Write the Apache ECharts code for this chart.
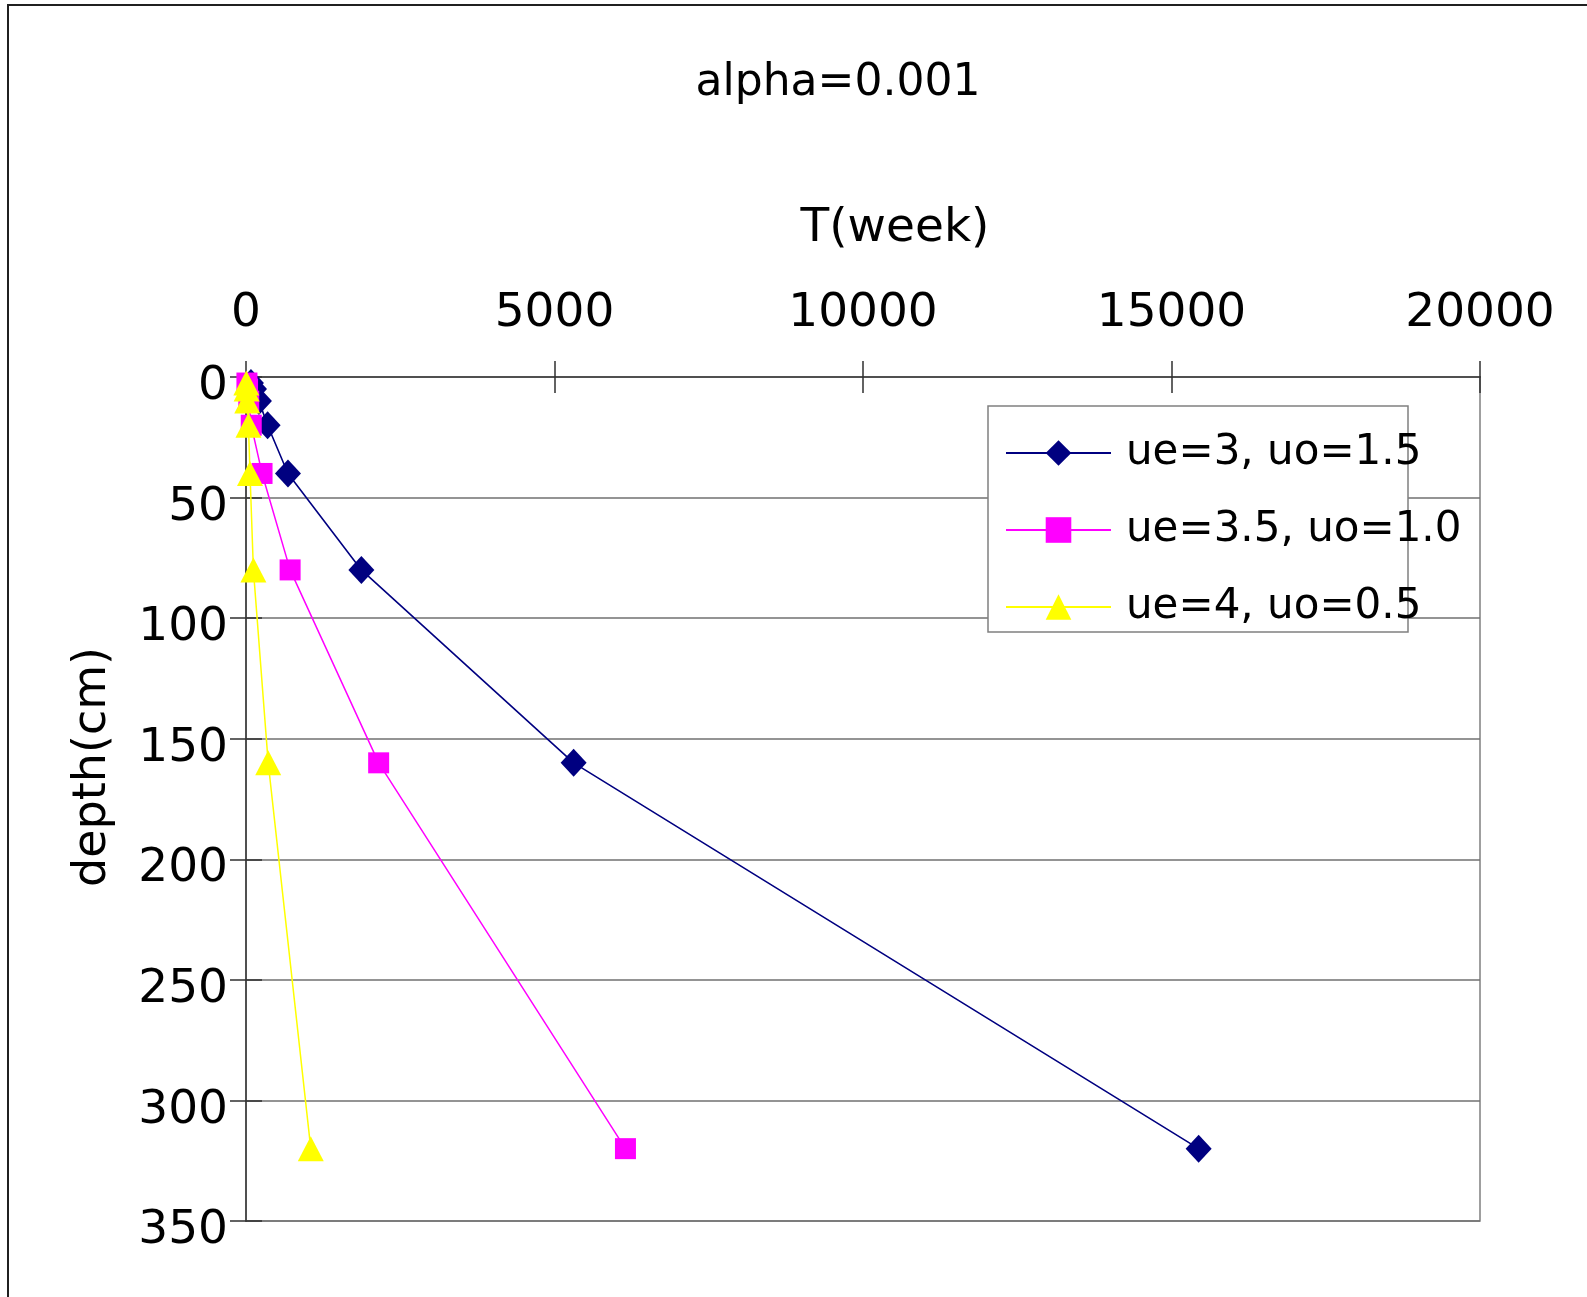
<!DOCTYPE html>
<html>
<head>
<meta charset="utf-8">
<script src="https://cdn.jsdelivr.net/npm/echarts@6/dist/echarts.min.js"></script>
<style>
html,body{margin:0;padding:0;background:#fff;}
#chart{width:1587px;height:1297px;}
</style>
</head>
<body>
<div id="chart"></div>
<script>
// ---- data ----
var titleText = 'alpha=0.001';
var xName = 'T(week)';
var yName = 'depth(cm)';
var depths = [2.5, 5, 10, 20, 40, 80, 160, 320];
var seriesNames = ['ue=3, uo=1.5', 'ue=3.5, uo=1.0', 'ue=4, uo=0.5'];
var tNavy = [80, 130, 210, 350, 680, 1870, 5310, 15440];
var tMagenta = [15, 25, 45, 85, 260, 715, 2150, 6150];
var tYellow = [5, 10, 20, 40, 65, 120, 360, 1050];
var xTicks = [0, 5000, 10000, 15000, 20000];
var yTicks = [0, 50, 100, 150, 200, 250, 300, 350];

function pairs(t) {
  var out = [];
  for (var i = 0; i < depths.length; i++) out.push([t[i], depths[i]]);
  return out;
}

var FONT = 'DejaVu Sans';
var chart = echarts.init(document.getElementById('chart'), null, {renderer: 'canvas'});

var gridL = 246, gridT = 377, gridR = 1480, gridB = 1221;

var option = {
  backgroundColor: '#ffffff',
  animation: false,
  grid: {
    left: gridL, top: gridT, width: gridR - gridL, height: gridB - gridT,
    show: true, borderColor: '#808080', borderWidth: 1.5, backgroundColor: 'transparent'
  },
  xAxis: [{
    type: 'value', position: 'top',
    min: xTicks[0], max: xTicks[xTicks.length - 1], interval: xTicks[1] - xTicks[0],
    axisLine: {show: true, lineStyle: {color: '#505050', width: 2}},
    axisTick: {show: true, inside: false, length: 16, lineStyle: {color: '#303030', width: 1.5}},
    axisLabel: {color: '#000', fontSize: 47, fontFamily: FONT, margin: 40,
      formatter: function (v) { return String(v); }},
    splitLine: {show: false}
  }, {
    type: 'value', position: 'top',
    min: xTicks[0], max: xTicks[xTicks.length - 1], interval: xTicks[1] - xTicks[0],
    axisLine: {show: false},
    axisTick: {show: true, inside: true, length: 16, lineStyle: {color: '#303030', width: 1.5}},
    axisLabel: {show: false},
    splitLine: {show: false}
  }],
  yAxis: [{
    type: 'value', inverse: true,
    min: yTicks[0], max: yTicks[yTicks.length - 1], interval: yTicks[1] - yTicks[0],
    axisLine: {show: true, lineStyle: {color: '#505050', width: 2}},
    axisTick: {show: true, inside: false, length: 16, lineStyle: {color: '#303030', width: 1.5}},
    axisLabel: {color: '#000', fontSize: 47, fontFamily: FONT, margin: 18,
      verticalAlign: 'top', lineHeight: 20,
      formatter: function (v) { return String(v); }},
    splitLine: {show: true, lineStyle: {color: '#707070', width: 1.5}}
  }, {
    type: 'value', inverse: true,
    min: yTicks[0], max: yTicks[yTicks.length - 1], interval: yTicks[1] - yTicks[0],
    position: 'left',
    axisLine: {show: false},
    axisTick: {show: true, inside: true, length: 16, lineStyle: {color: '#303030', width: 1.5}},
    axisLabel: {show: false},
    splitLine: {show: false}
  }],
  legend: {
    orient: 'vertical', left: 1005, top: 431, padding: 0,
    itemWidth: 105, itemHeight: 32, itemGap: 33,
    textStyle: {color: '#000', fontSize: 42, fontFamily: FONT, lineHeight: 44, padding: [0, 0, 0, 10]},
    data: seriesNames,
    z: 5
  },
  graphic: {
    elements: [
      {type: 'rect', z: -10, silent: true,
       shape: {x: 8, y: 5, width: 1700, height: 1400},
       style: {fill: 'transparent', stroke: '#202020', lineWidth: 2}},
      {type: 'rect', z: 3, silent: true,
       shape: {x: 988, y: 406, width: 420, height: 226},
       style: {fill: '#ffffff', stroke: '#808080', lineWidth: 1.5}},
      {type: 'text', silent: true, x: 838, y: 84,
       style: {text: titleText, fill: '#000', font: '44px "DejaVu Sans"', textAlign: 'center', textVerticalAlign: 'middle'}},
      {type: 'text', silent: true, x: 895, y: 229,
       style: {text: xName, fill: '#000', font: '47px "DejaVu Sans"', textAlign: 'center', textVerticalAlign: 'middle'}},
      {type: 'text', silent: true, x: 93, y: 767, rotation: Math.PI / 2,
       style: {text: yName, fill: '#000', font: '46px "DejaVu Sans"', textAlign: 'center', textVerticalAlign: 'middle'}}
    ]
  },
  series: [{
    name: seriesNames[0], type: 'line', data: pairs(tNavy),
    symbol: 'diamond', symbolSize: [26, 28],
    itemStyle: {color: '#000080'}, lineStyle: {color: '#000080', width: 1.6}, z: 2
  }, {
    name: seriesNames[1], type: 'line', data: pairs(tMagenta),
    symbol: 'rect', symbolSize: 21,
    itemStyle: {color: '#FF00FF'}, lineStyle: {color: '#FF00FF', width: 1.5}, z: 2
  }, {
    name: seriesNames[2], type: 'line', data: pairs(tYellow),
    symbol: 'triangle', symbolSize: [26, 25],
    itemStyle: {color: '#FFFF00'}, lineStyle: {color: '#FFFF00', width: 1.5}, z: 2
  }]
};
chart.setOption(option);
</script>
</body>
</html>
